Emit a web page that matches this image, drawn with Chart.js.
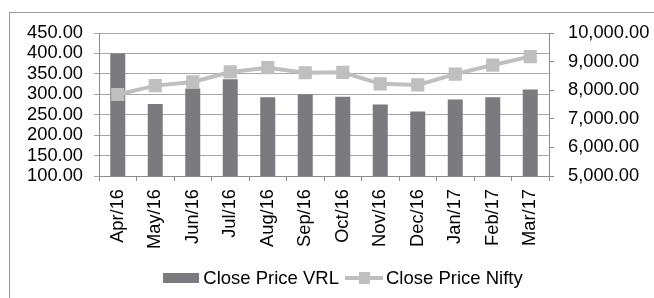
<!DOCTYPE html>
<html lang="en">
<head>
  <meta charset="UTF-8" />
  <title>Close Price VRL vs Nifty</title>
  <style>
    body {
      margin: 0;
      background: #fff;
      font-family: "Liberation Sans", Arial, sans-serif;
    }
    #wrap {
      position: relative;
      width: 654px;
      height: 298px;
      overflow: hidden;
    }
    #frame {
      position: absolute;
      left: 9px;
      top: 12px;
      width: 700px;
      height: 400px;
      border: 1px solid #9a9a9a;
      box-sizing: border-box;
      pointer-events: none;
    }
    #legenda {
      position: absolute;
      left: 0;
      top: 266px;
      width: 686px;
      text-align: center;
      font-size: 18.5px;
      color: #000;
      white-space: nowrap;
    }
    .item { display: inline-block; vertical-align: middle; }
    .barra {
      display: inline-block; width: 36px; height: 10px;
      background: #7b7b7f; vertical-align: middle; margin-right: 4px;
    }
    .linha {
      display: inline-block; position: relative; width: 38px; height: 12px;
      vertical-align: middle; margin: 0 3px 0 6px;
    }
    .linha::before {
      content: ""; position: absolute; left: 0; right: 0; top: 4px; height: 4px; background: #bfbfbf;
    }
    .linha::after {
      content: ""; position: absolute; left: 14px; top: 0; width: 11px; height: 12px; background: #bfbfbf;
    }
  </style>
  <script src="https://cdn.jsdelivr.net/npm/chart.js"></script>
</head>
<body>
  <div id="wrap">
    <canvas id="grafico" width="654" height="298"></canvas>
    <div id="frame"></div>
    <div id="legenda">
      <span class="barra"></span><span class="item">Close Price VRL</span><span class="linha"></span><span class="item">Close Price Nifty</span>
    </div>
  </div>

  <script>
    const meses = ["Apr/16", "May/16", "Jun/16", "Jul/16", "Aug/16", "Sep/16",
                   "Oct/16", "Nov/16", "Dec/16", "Jan/17", "Feb/17", "Mar/17"];
    const precoVRL = [400, 276, 314, 337, 293, 300, 294, 275, 258, 287, 293, 312];
    const precoNifty = [7850, 8160, 8288, 8638, 8786, 8611, 8625, 8224, 8185, 8561, 8879, 9173];

    const fmt = (v) => v.toLocaleString("en-US", { minimumFractionDigits: 2, maximumFractionDigits: 2 });
    const fonte = { family: "'Liberation Sans', Arial, sans-serif", size: 18.3 };

    new Chart(document.getElementById("grafico").getContext("2d"), {
      data: {
        labels: meses,
        datasets: [
          {
            type: "line",
            label: "Close Price Nifty",
            data: precoNifty,
            yAxisID: "y1",
            borderColor: "#bfbfbf",
            backgroundColor: "#bfbfbf",
            borderWidth: 4,
            pointStyle: "rect",
            pointRadius: 6.5,
            pointHoverRadius: 6.5,
            order: 1,
          },
          {
            type: "bar",
            label: "Close Price VRL",
            data: precoVRL,
            yAxisID: "y",
            backgroundColor: "#7b7b7f",
            barPercentage: 0.8,
            categoryPercentage: 0.5,
            order: 2,
          },
        ],
      },
      options: {
        responsive: false,
        animation: false,
        layout: { padding: { left: 0, right: 0, top: 33, bottom: 0 } },
        plugins: { legend: { display: false }, tooltip: { enabled: false } },
        scales: {
          x: {
            offset: true,
            grid: { offset: true, drawOnChartArea: false, tickLength: 5, color: "#8c8c8c" },
            border: { color: "#8c8c8c" },
            ticks: { color: "#000", font: fonte, minRotation: 90, maxRotation: 90, padding: 8, autoSkip: false },
            afterFit: (s) => { s.height = 122; },
          },
          y: {
            position: "left",
            min: 100,
            max: 450,
            ticks: { stepSize: 50, autoSkip: false, color: "#000", font: fonte, padding: 11, callback: (v) => fmt(v) },
            grid: { color: "#a6a6a6", tickLength: 5 },
            border: { color: "#8c8c8c" },
            afterFit: (s) => { s.width = 99; },
          },
          y1: {
            position: "right",
            min: 5000,
            max: 10000,
            ticks: { stepSize: 1000, autoSkip: false, color: "#000", font: fonte, padding: 14, callback: (v) => fmt(v) },
            grid: { drawOnChartArea: false, tickLength: 5, color: "#8c8c8c" },
            border: { color: "#8c8c8c" },
            afterFit: (s) => { s.width = 105; },
          },
        },
      },
    });
  </script>
</body>
</html>
